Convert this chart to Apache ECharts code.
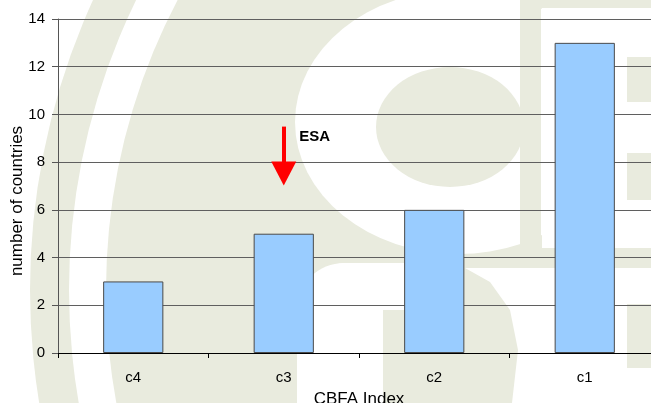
<!DOCTYPE html>
<html>
<head>
<meta charset="utf-8">
<script src="https://cdn.jsdelivr.net/npm/echarts@6/dist/echarts.min.js"></script>
<style>
  html, body { margin: 0; padding: 0; background: #fff; }
  #chart { width: 651px; height: 403px; }
</style>
</head>
<body>
<div id="chart"></div>
<script>
// data
var categories = ['c4', 'c3', 'c2', 'c1']
var countries = [3, 5, 6, 13]
var yTicks = [0, 2, 4, 6, 8, 10, 12, 14]
// ESA arrow over c3 (top of shaft, centre of head, label height)
var esaCategory = 'c3'
var esaArrow = [9.49, 7.52]
var esaLabelAt = 9.06

var green = '#E9EBDE'
var font = 'Liberation Sans, Arial, sans-serif'

// faint logo watermark behind the plot
function bg (type, shape, fill, extra) {
  return Object.assign({ type: type, shape: shape, style: { fill: fill }, z: -100, silent: true }, extra || {})
}
var watermark = [
  bg('circle', { cx: 729, cy: 290, r: 699 }, green),
  bg('circle', { cx: 729, cy: 290, r: 660 }, '#fff'),
  bg('circle', { cx: 729, cy: 290, r: 623 }, green),
  bg('circle', { cx: 0, cy: 0, r: 1 }, '#fff', { x: 458, y: 122, scaleX: 163, scaleY: 132 }),
  bg('circle', { cx: 0, cy: 0, r: 1 }, green, { x: 450, y: 127, scaleX: 74, scaleY: 60 }),
  bg('rect', { x: 520, y: 0, width: 21, height: 250 }, green),
  bg('rect', { x: 542, y: 8, width: 120, height: 240 }, '#fff'),
  bg('rect', { x: 627, y: 57, width: 30, height: 45 }, green),
  bg('rect', { x: 627, y: 153, width: 30, height: 47 }, green),
  bg('rect', { x: 540, y: 268, width: 87, height: 140 }, '#fff'),
  bg('rect', { x: 627, y: 268, width: 30, height: 36 }, '#fff'),
  bg('rect', { x: 627, y: 368, width: 30, height: 40 }, '#fff'),
  bg('rect', { x: 297, y: 263, width: 107, height: 47, r: [50, 0, 0, 0] }, '#fff'),
  bg('rect', { x: 297, y: 263, width: 86, height: 145, r: [50, 0, 0, 0] }, '#fff'),
  bg('polygon', { points: [[465, 268], [541, 268], [541, 403], [512, 403], [518, 350], [510, 310], [490, 282]] }, '#fff')
]

var chart = echarts.init(document.getElementById('chart'))
chart.setOption({
  animation: false,
  backgroundColor: '#fff',
  graphic: watermark,
  grid: {
    left: 58,
    right: -9,
    top: 19,
    bottom: 50,
    outerBoundsMode: 'none'
  },
  xAxis: {
    type: 'category',
    data: categories,
    name: 'CBFA Index',
    nameLocation: 'middle',
    nameGap: 38,
    nameMoveOverlap: false,
    nameTextStyle: { color: '#000', fontSize: 17, fontFamily: font },
    axisLine: { lineStyle: { color: '#000', width: 1 } },
    axisTick: { show: true, length: 5, lineStyle: { color: '#000' } },
    axisLabel: { color: '#000', fontSize: 15, fontFamily: font, margin: 17 },
    splitLine: { show: false }
  },
  yAxis: {
    type: 'value',
    min: yTicks[0],
    max: yTicks[yTicks.length - 1],
    interval: 2,
    name: 'number of countries',
    nameLocation: 'middle',
    nameGap: 32,
    nameMoveOverlap: false,
    nameTextStyle: { color: '#000', fontSize: 17, fontFamily: font, padding: [0, 30, 0, 0] },
    axisLine: { show: true, lineStyle: { color: '#555', width: 1 } },
    axisTick: { show: true, length: 6, lineStyle: { color: '#555' } },
    axisLabel: { color: '#000', fontSize: 15, fontFamily: font, margin: 13 },
    splitLine: { show: true, lineStyle: { color: '#5f5f5f', width: 1 } }
  },
  series: [
    {
      type: 'bar',
      data: countries,
      barWidth: '40%',
      itemStyle: { color: '#99CCFF', borderColor: '#4a4a4a', borderWidth: 1 },
      markLine: {
        silent: true,
        symbol: ['none', 'triangle'],
        symbolSize: [25, 24],
        label: { show: false },
        lineStyle: { color: '#FF0000', width: 4, type: 'solid' },
        itemStyle: { color: '#FF0000' },
        data: [[{ coord: [esaCategory, esaArrow[0]] }, { coord: [esaCategory, esaArrow[1]] }]]
      },
      markPoint: {
        silent: true,
        symbol: 'rect',
        symbolSize: 0,
        itemStyle: { color: 'transparent' },
        label: {
          show: true,
          position: 'inside',
          offset: [31, 0],
          formatter: 'ESA',
          color: '#000',
          fontSize: 15,
          fontWeight: 'bold',
          fontFamily: font
        },
        data: [{ coord: [esaCategory, esaLabelAt] }]
      }
    }
  ]
})
</script>
</body>
</html>
